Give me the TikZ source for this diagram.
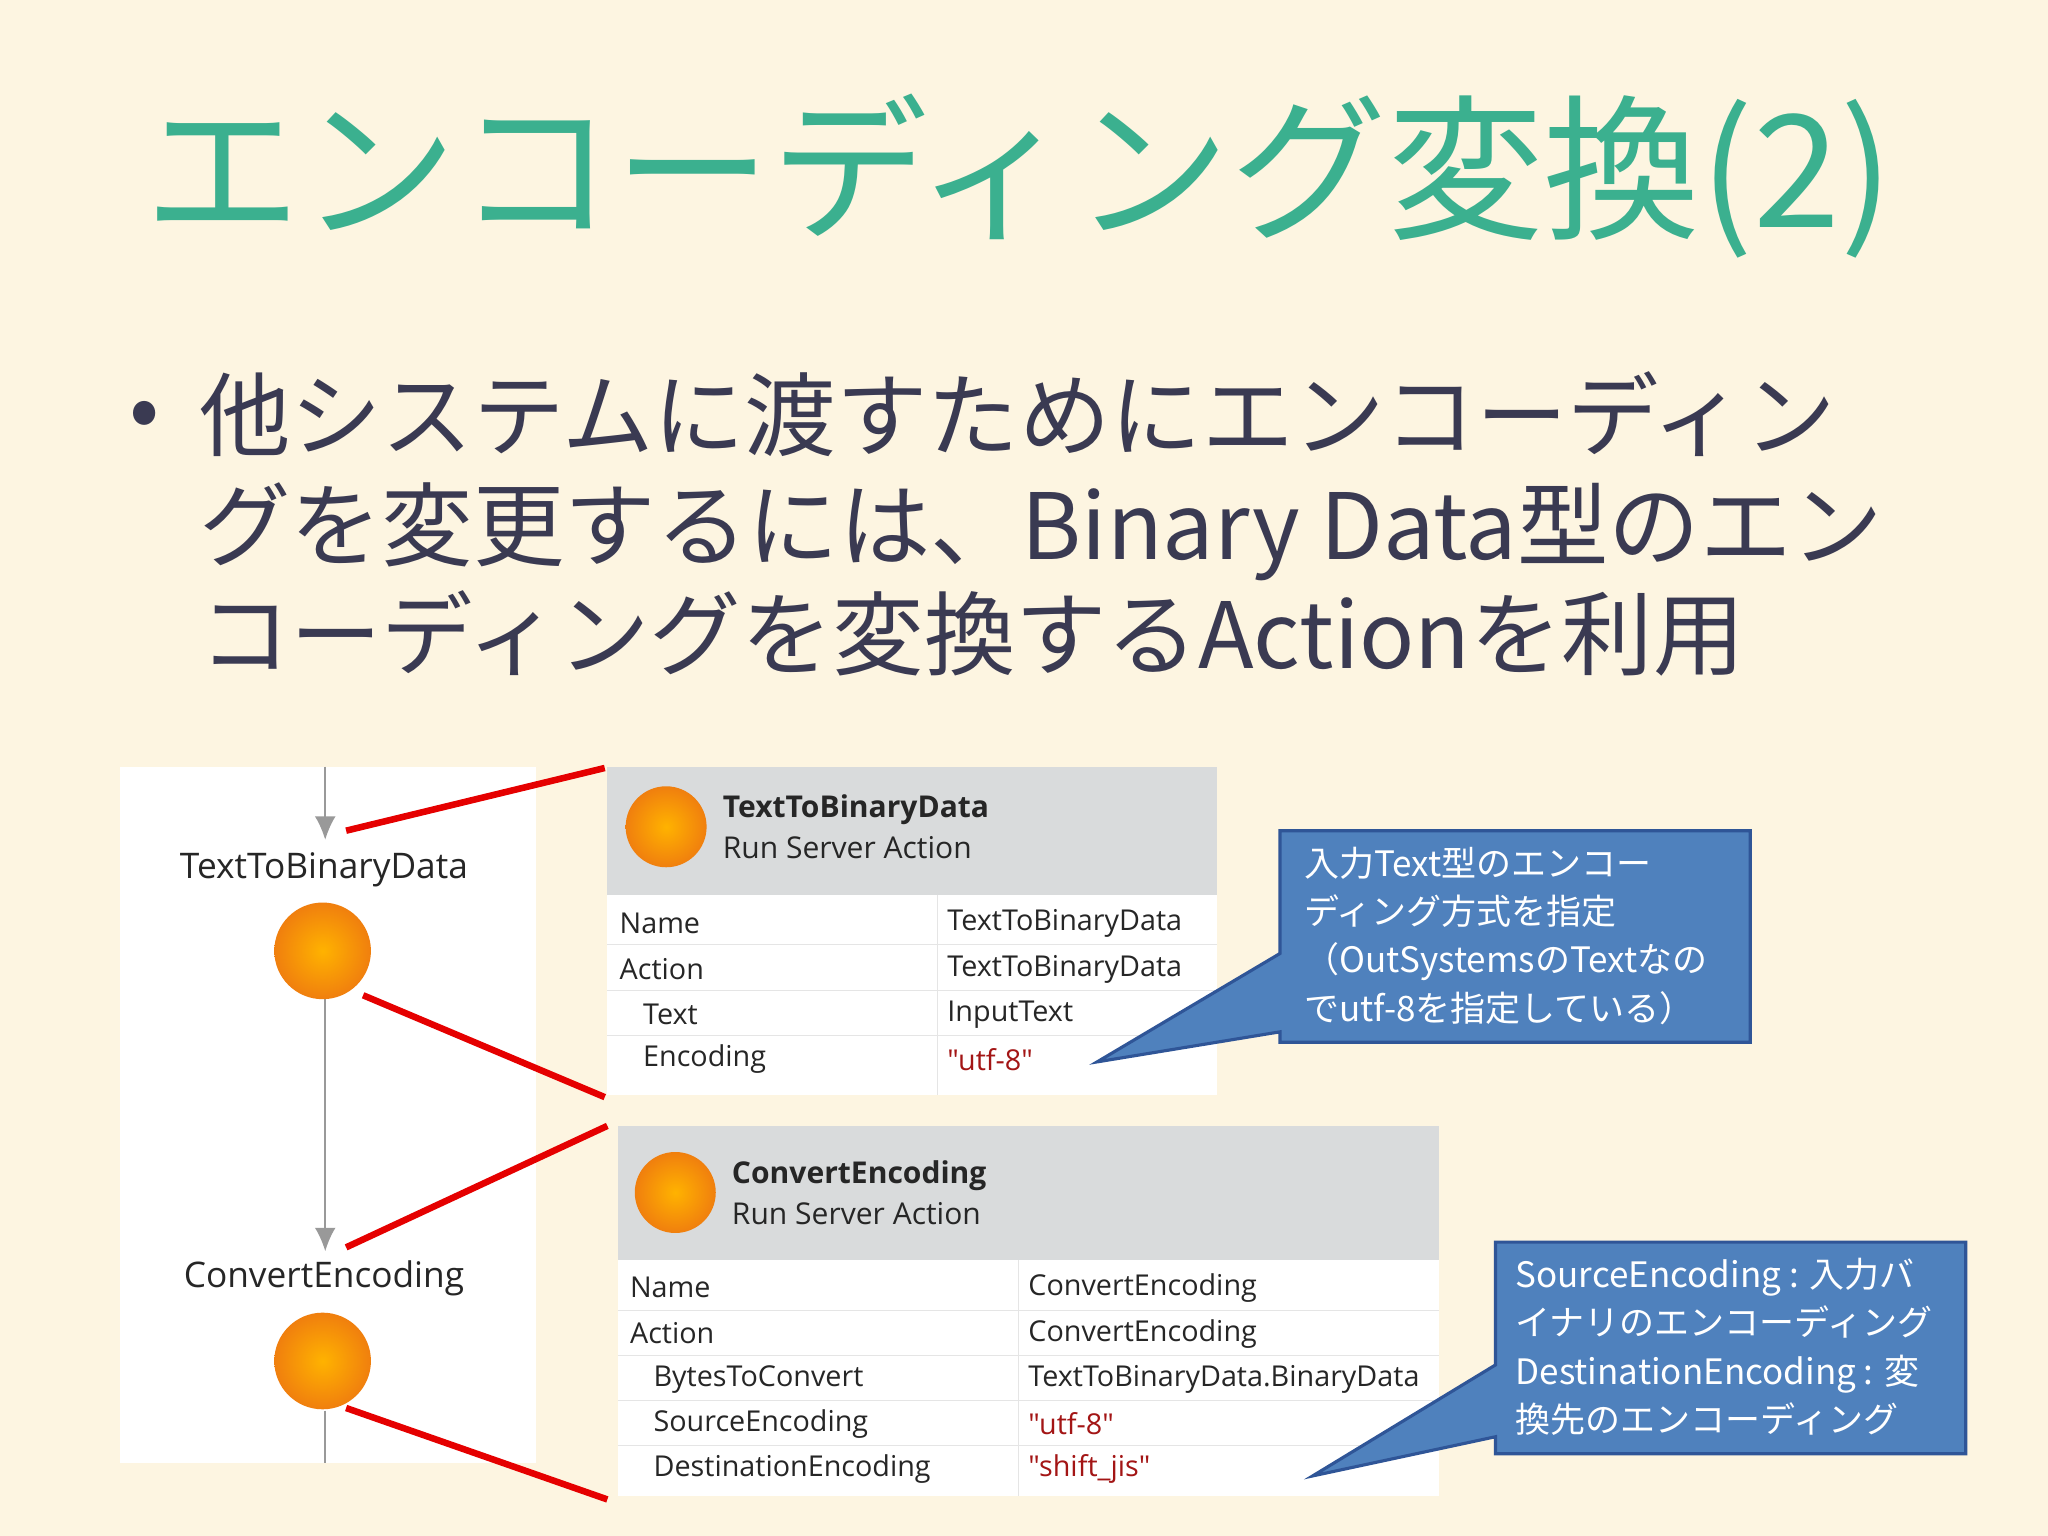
\documentclass[tikz,border=0pt]{standalone}
\usepackage{fontspec}
\usetikzlibrary{arrows.meta}
\setmainfont{Noto Sans CJK JP}
\newfontfamily\tbl{Open Sans}
\definecolor{bg}{HTML}{FDF5E1}
\definecolor{ttl}{HTML}{3BB08F}
\definecolor{body}{HTML}{3A3A52}
\definecolor{hdr}{HTML}{D9DBDC}
\definecolor{cfill}{HTML}{4F81BD}
\definecolor{cbord}{HTML}{2F5597}
\definecolor{orng}{HTML}{F07F0E}
\definecolor{qred}{HTML}{A31515}
\tikzset{
 redln/.style={red!90!black,line width=2.5pt},
 ball/.style={circle,inner sep=0pt,shade,inner color=orange!60!yellow,outer color=orng,draw=none},
 tx/.style={anchor=west,inner sep=0pt,font=\tbl\fontsize{11}{13}\selectfont,text=black!85},
 callout/.style={fill=cfill,draw=cbord,line width=1.2pt},
 ctext/.style={anchor=north west,align=left,text=white,font=\fontsize{13.4}{18.5}\selectfont,inner sep=0pt},
 gline/.style={draw=black!40,line width=0.8pt},
}
\begin{document}
\begin{tikzpicture}[x=0.5pt,y=-0.5pt]
\fill[bg] (0,0) rectangle (1568,1176);
\node[anchor=center,text=ttl,font=\fontsize{60}{70}\selectfont] (title) at (780,135) {エンコーディング変換(2)};
\node[anchor=west,text=body,font=\fontsize{34}{40}\selectfont] (bul) at (92,322) {•};
\node[anchor=north west,align=left,text=body,font=\fontsize{35}{42}\selectfont,inner sep=0pt] (txt) at (152,284)
 {他システムに渡すためにエンコーディン\\グを変更するには、Binary Data型のエン\\コーディングを変換するActionを利用};
% left panel
\fill[white] (92,587) rectangle (410,1120);
\coordinate (a0) at (249,587); \coordinate (a1) at (249,643);
\coordinate (b0) at (249,765); \coordinate (b1) at (249,958);
\coordinate (c0) at (249,1080); \coordinate (c1) at (249,1120);
\draw[gline,-{Latex[length=9pt,width=8pt]}] (a0) -- (a1);
\draw[gline,-{Latex[length=9pt,width=8pt]}] (b0) -- (b1);
\draw[gline] (c0) -- (c1);
\node[tx,anchor=center,font=\tbl\fontsize{13.5}{16}\selectfont] (l1) at (248,666) {TextToBinaryData};
\node[tx,anchor=center,font=\tbl\fontsize{13.5}{16}\selectfont] (l2) at (248,979) {ConvertEncoding};
\node[ball,minimum size=37pt] (o1) at (247,728) {};
\node[ball,minimum size=37pt] (o2) at (247,1042) {};
% top table
\fill[hdr] (465,587) rectangle (932,685);
\fill[white] (465,685) rectangle (932,838);
\foreach \y in {723,758,793} \draw[black!10] (465,\y) -- (932,\y);
\draw[black!10] (718,685) -- (718,838);
\node[ball,minimum size=31pt] (o3) at (510,633) {};
\node[tx,font=\tbl\bfseries\fontsize{11.5}{14}\selectfont] (h1) at (553,620) {TextToBinaryData};
\node[tx,font=\tbl\fontsize{11.5}{14}\selectfont] (h2) at (553,649) {Run Server Action};
\node[tx] at (474,707) {Name}; \node[tx] at (725,707) {TextToBinaryData};
\node[tx] at (474,742) {Action}; \node[tx] at (725,742) {TextToBinaryData};
\node[tx] at (492,777) {Text}; \node[tx] at (725,777) {InputText};
\node[tx] at (492,811) {Encoding}; \node[tx,text=qred] at (725,811) {"utf-8"};
% bottom table
\fill[hdr] (473,862) rectangle (1102,965);
\fill[white] (473,965) rectangle (1102,1145);
\foreach \y in {1003,1038,1072,1107} \draw[black!10] (473,\y) -- (1102,\y);
\draw[black!10] (780,965) -- (780,1145);
\node[ball,minimum size=31pt] (o4) at (517,913) {};
\node[tx,font=\tbl\bfseries\fontsize{11.5}{14}\selectfont] (h3) at (560,900) {ConvertEncoding};
\node[tx,font=\tbl\fontsize{11.5}{14}\selectfont] (h4) at (560,929) {Run Server Action};
\node[tx] at (482,986) {Name}; \node[tx] at (787,986) {ConvertEncoding};
\node[tx] at (482,1021) {Action}; \node[tx] at (787,1021) {ConvertEncoding};
\node[tx] at (500,1056) {BytesToConvert}; \node[tx] at (787,1056) {TextToBinaryData.BinaryData};
\node[tx] at (500,1090) {SourceEncoding}; \node[tx,text=qred] at (787,1090) {"utf-8"};
\node[tx] at (500,1125) {DestinationEncoding}; \node[tx,text=qred] at (787,1125) {"shift\_jis"};
% red lines
\coordinate (p1) at (265,636); \coordinate (r1) at (463,588);
\coordinate (p2) at (278,762); \coordinate (r2) at (463,840);
\coordinate (p3) at (265,955); \coordinate (r3) at (465,862);
\coordinate (p4) at (265,1078); \coordinate (r4) at (465,1148);
\draw[redln] (p1) -- (r1);
\draw[redln] (p2) -- (r2);
\draw[redln] (p3) -- (r3);
\draw[redln] (p4) -- (r4);
% callouts
\draw[callout] (980,636) -- (1340,636) -- (1340,798) -- (980,798) -- (980,790) -- (840,813) -- (980,730) -- cycle;
\node[ctext] (t1) at (998,648) {入力Text型のエンコー\\ディング方式を指定\\（OutSystemsのTextなの\\でutf-8を指定している）};
\draw[callout] (1145,951) -- (1505,951) -- (1505,1113) -- (1145,1113) -- (1145,1100) -- (1005,1130) -- (1145,1045) -- cycle;
\node[ctext] (t2) at (1160,963) {SourceEncoding : 入力バ\\イナリのエンコーディング\\DestinationEncoding : 変\\換先のエンコーディング};
\end{tikzpicture}
\end{document}
